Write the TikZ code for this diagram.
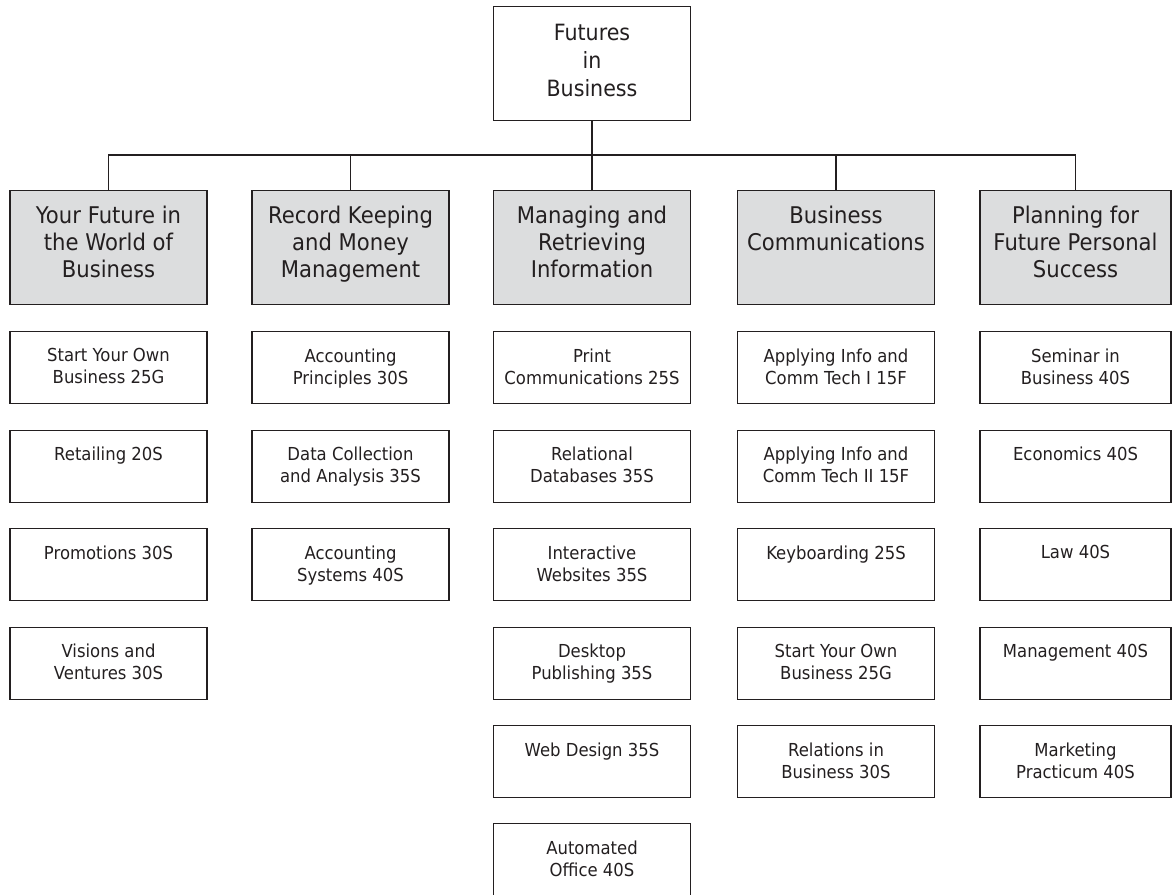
\documentclass[tikz,border=0pt]{standalone}
\usepackage{fontspec}
\setmainfont{DejaVu Sans}[FakeStretch=0.92]
\definecolor{ink}{HTML}{231F20}
\definecolor{boxgray}{HTML}{DCDDDE}
\begin{document}
\begin{tikzpicture}[x=1pt,y=-1pt,
  base/.style={draw=ink,line width=1.3pt,inner sep=0pt,text=ink},
  topbox/.style={base,anchor=north,minimum width=197pt,minimum height=114pt,
     font=\fontsize{22.4}{28}\selectfont},
  headbox/.style={base,fill=boxgray,anchor=north,minimum width=197pt,minimum height=114pt,
     font=\fontsize{23}{27}\selectfont},
  course/.style={base,anchor=north,minimum width=197pt,minimum height=72pt,
     font=\fontsize{17.9}{22}\selectfont},
  narrow/.style={minimum width=191pt},
  link/.style={draw=ink,line width=1.3pt}]
\useasboundingbox (0,0) rectangle (1172,894);
\newcommand{\crs}[1]{\parbox[c][72pt][t]{190pt}{\centering\vspace*{17pt}#1}}
\newcommand{\hdr}[2][15pt]{\parbox[c][114pt][t]{190pt}{\centering\vspace*{#1}#2}}
\node[topbox] (top) at (592,6) {\hdr[18pt]{Futures\\in\\Business}};
\node[headbox] (g1) at (108.5,190) {\hdr{Your Future in\\the World of\\Business}};
\node[headbox] (g2) at (350.5,190) {\hdr{Record Keeping\\and Money\\Management}};
\node[headbox] (g3) at (592,190) {\hdr{Managing and\\Retrieving\\Information}};
\node[headbox] (g4) at (836,190) {\hdr{Business\\Communications}};
\node[headbox,narrow] (g5) at (1075.5,190) {\hdr{Planning for\\Future Personal\\Success}};
\coordinate (bar) at (0,155);
% column 1
\node[course] (a1) at (108.5,331) {\crs{Start Your Own\\Business 25G}};
\node[course] (a2) at (108.5,429.5) {\crs{Retailing 20S}};
\node[course] (a3) at (108.5,528) {\crs{Promotions 30S}};
\node[course] (a4) at (108.5,626.5) {\crs{Visions and\\Ventures 30S}};
% column 2
\node[course] (b1) at (350.5,331) {\crs{Accounting\\Principles 30S}};
\node[course] (b2) at (350.5,429.5) {\crs{Data Collection\\and Analysis 35S}};
\node[course] (b3) at (350.5,528) {\crs{Accounting\\Systems 40S}};
% column 3
\node[course] (c1) at (592,331) {\crs{Print\\Communications 25S}};
\node[course] (c2) at (592,429.5) {\crs{Relational\\Databases 35S}};
\node[course] (c3) at (592,528) {\crs{Interactive\\Websites 35S}};
\node[course] (c4) at (592,626.5) {\crs{Desktop\\Publishing 35S}};
\node[course] (c5) at (592,725) {\crs{Web Design 35S}};
\node[course] (c6) at (592,823) {\crs{Automated\\Office 40S}};
% column 4
\node[course] (d1) at (836,331) {\crs{Applying Info and\\Comm Tech I 15F}};
\node[course] (d2) at (836,429.5) {\crs{Applying Info and\\Comm Tech II 15F}};
\node[course] (d3) at (836,528) {\crs{Keyboarding 25S}};
\node[course] (d4) at (836,626.5) {\crs{Start Your Own\\Business 25G}};
\node[course] (d5) at (836,725) {\crs{Relations in\\Business 30S}};
% column 5
\node[course,narrow] (e1) at (1075.5,331) {\crs{Seminar in\\Business 40S}};
\node[course,narrow] (e2) at (1075.5,429.5) {\crs{Economics 40S}};
\node[course,narrow] (e3) at (1075.5,528) {\crs{Law 40S}};
\node[course,narrow] (e4) at (1075.5,626.5) {\crs{Management 40S}};
\node[course,narrow] (e5) at (1075.5,725) {\crs{Marketing\\Practicum 40S}};
% connectors
\draw[link] (g1.north) -- (g1.north |- bar) -| (g5.north);
\draw[link] (g2.north) -- (g2.north |- bar);
\draw[link] (g4.north) -- (g4.north |- bar);
\draw[link] (top.south) -- (g3.north);
\end{tikzpicture}
\end{document}
